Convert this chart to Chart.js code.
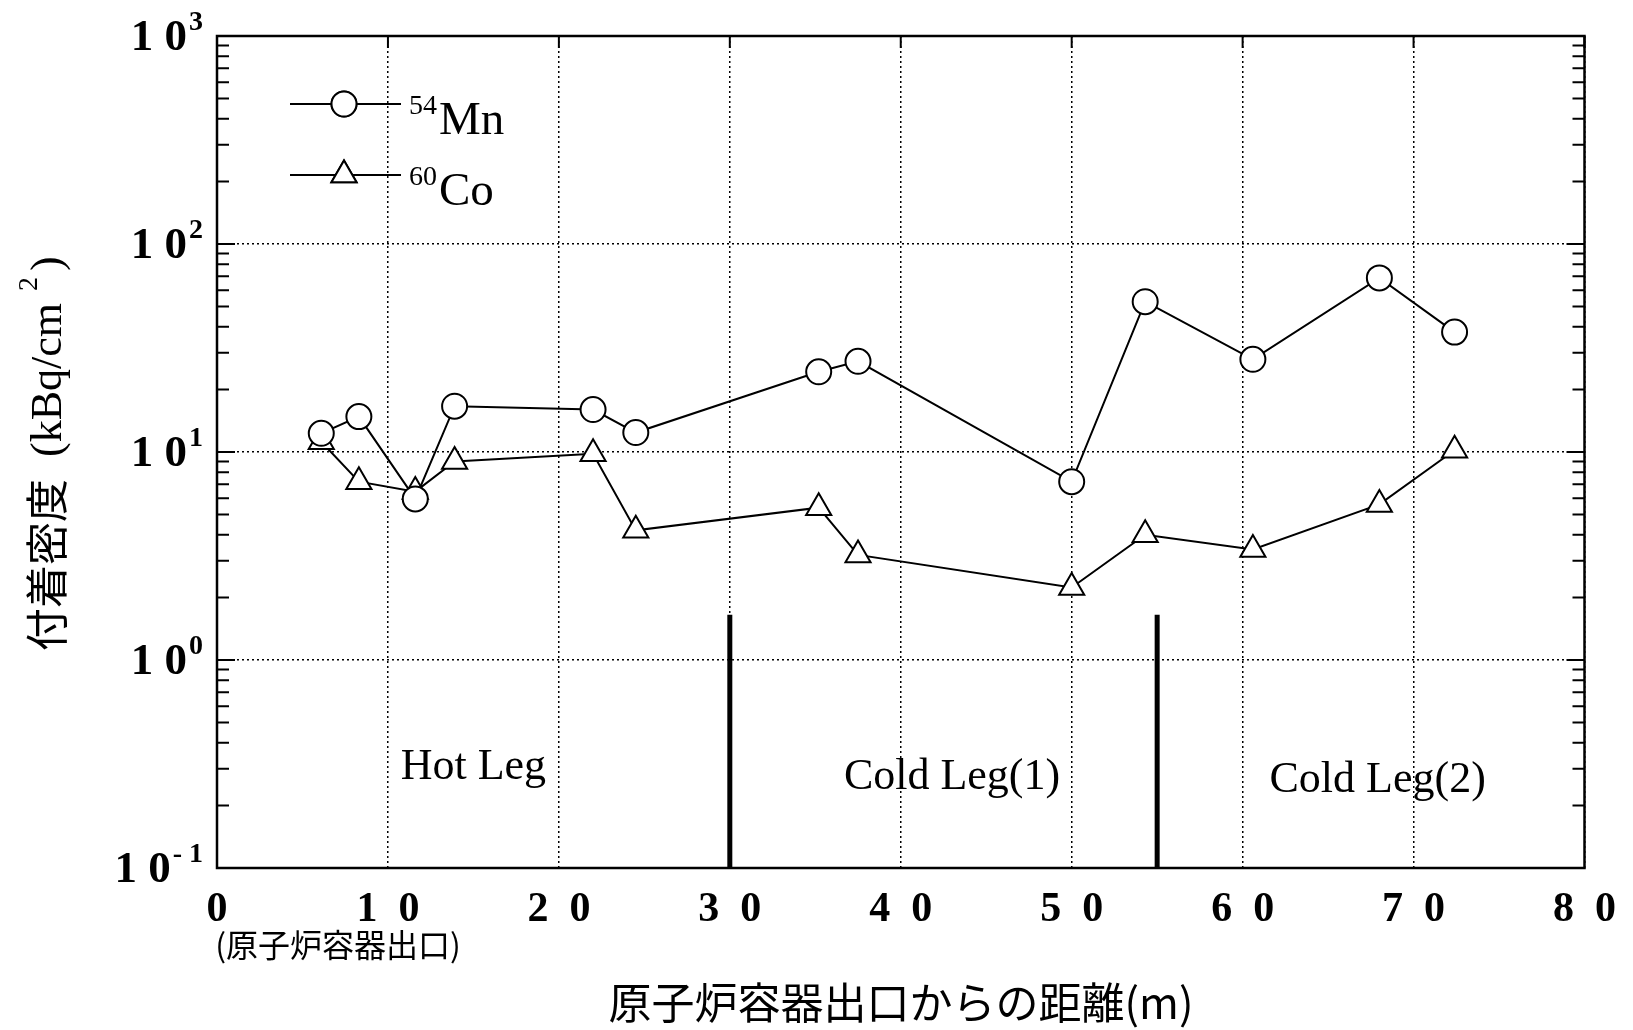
<!DOCTYPE html>
<html>
<head>
<meta charset="utf-8">
<script src="https://cdn.jsdelivr.net/npm/chart.js@4.4.1/dist/chart.umd.min.js"></script>
<style>
  body { margin: 0; background: #fff; }
  canvas { display: block; }
</style>
</head>
<body>
<canvas id="deposit" width="1633" height="1030"></canvas>
<script>
// distance from reactor vessel outlet (m) and deposit density (kBq/cm2)
var mnX = [6.1, 8.3, 11.6, 13.9, 22.0, 24.5, 35.2, 37.5, 50.0, 54.3, 60.6, 68.0, 72.4];
var mnY = [12.3, 14.8, 5.95, 16.6, 16.0, 12.4, 24.3, 27.3, 7.2, 52.8, 27.9, 68.7, 37.7];
var coX = [6.1, 8.3, 11.6, 13.9, 22.0, 24.5, 35.2, 37.5, 50.0, 54.3, 60.6, 68.0, 72.4];
var coY = [11.2, 7.2, 6.45, 9.0, 9.8, 4.2, 5.4, 3.2, 2.23, 4.0, 3.4, 5.6, 10.2];

var xTicks = [0, 10, 20, 30, 40, 50, 60, 70, 80];
var yExponents = [-1, 0, 1, 2, 3];
var yExpLabels = ['- 1', '0', '1', '2', '3'];

// boundaries between legs
var legBoundaries = [30, 55];
var boundaryTop = 1.65;
var legNames = ['Hot Leg', 'Cold Leg(1)', 'Cold Leg(2)'];
var legNameX = [15.0, 43.0, 67.9];
var legNameY = [0.267, 0.240, 0.232];

var SERIF = '"Liberation Serif", "DejaVu Serif", serif';
var CJK = '"Noto Sans CJK JP", sans-serif';

function toPoints(xs, ys) {
    return xs.map(function (v, i) { return {x: v, y: ys[i]}; });
}

var datasets = [
    {
        label: '54Mn',
        data: toPoints(mnX, mnY),
        borderColor: '#000',
        backgroundColor: '#fff',
        borderWidth: 2,
        pointStyle: 'circle',
        pointRadius: 12.5,
        pointBorderWidth: 2,
        pointBackgroundColor: '#fff',
        pointBorderColor: '#000'
    },
    {
        label: '60Co',
        data: toPoints(coX, coY),
        borderColor: '#000',
        backgroundColor: '#fff',
        borderWidth: 2,
        pointStyle: 'triangle',
        pointRadius: 14.5,
        pointBorderWidth: 2,
        pointBackgroundColor: '#fff',
        pointBorderColor: '#000'
    }
];
legBoundaries.forEach(function (b) {
    datasets.push({
        label: 'boundary',
        data: [{x: b, y: 0.1}, {x: b, y: boundaryTop}],
        borderColor: '#000',
        borderWidth: 5,
        pointRadius: 0,
        borderCapStyle: 'butt'
    });
});

function isDecade(v) {
    var l = Math.log10(v);
    return Math.abs(l - Math.round(l)) < 1e-9;
}

const decorPlugin = {
    id: 'decor',
    afterDraw: function (chart) {
        const ctx = chart.ctx;
        const a = chart.chartArea;
        const x = chart.scales.x;
        const y = chart.scales.y;
        ctx.save();
        ctx.strokeStyle = '#000';
        ctx.fillStyle = '#000';

        // frame
        ctx.lineWidth = 2.5;
        ctx.strokeRect(a.left, a.top, a.right - a.left, a.bottom - a.top);

        // inward ticks on left and right
        ctx.lineWidth = 2;
        for (var e = -1; e < 3; e++) {
            for (var s = 1; s <= 9; s++) {
                var py = y.getPixelForValue(s * Math.pow(10, e));
                var len = s === 1 ? 18 : 12;
                ctx.beginPath();
                ctx.moveTo(a.left, py); ctx.lineTo(a.left + len, py);
                ctx.moveTo(a.right, py); ctx.lineTo(a.right - len, py);
                ctx.stroke();
            }
        }
        // inward ticks on top
        xTicks.forEach(function (v) {
            var px = x.getPixelForValue(v);
            ctx.beginPath();
            ctx.moveTo(px, a.top); ctx.lineTo(px, a.top + 12);
            ctx.stroke();
        });

        // y tick labels 10^n
        var rightEdge = 203;
        yExponents.forEach(function (e, i) {
            var py = y.getPixelForValue(Math.pow(10, e));
            ctx.font = 'bold 28px ' + SERIF;
            var supW = ctx.measureText(yExpLabels[i]).width;
            ctx.textAlign = 'left';
            ctx.textBaseline = 'alphabetic';
            ctx.fillText(yExpLabels[i], rightEdge - supW, py - 6);
            ctx.font = 'bold 45px ' + SERIF;
            ctx.textAlign = 'right';
            ctx.fillText('1 0', rightEdge - supW - 2, py + 14);
        });

        // leg names
        ctx.font = '44px ' + SERIF;
        ctx.textAlign = 'center';
        ctx.textBaseline = 'alphabetic';
        legNames.forEach(function (n, i) {
            ctx.fillText(n, x.getPixelForValue(legNameX[i]), y.getPixelForValue(legNameY[i]));
        });

        // legend
        var rows = [{ds: 0, y: 104, sup: '54', name: 'Mn'}, {ds: 1, y: 175, sup: '60', name: 'Co'}];
        rows.forEach(function (r) {
            var d = chart.data.datasets[r.ds];
            ctx.lineWidth = 2;
            ctx.beginPath();
            ctx.moveTo(290, r.y); ctx.lineTo(401, r.y);
            ctx.stroke();
            ctx.fillStyle = '#fff';
            Chart.helpers.drawPoint(ctx, {pointStyle: d.pointStyle, radius: d.pointRadius, borderWidth: 2}, 344, r.y);
            ctx.fill();
            ctx.stroke();
            ctx.fillStyle = '#000';
            ctx.textAlign = 'left';
            ctx.textBaseline = 'alphabetic';
            ctx.font = '28px ' + SERIF;
            ctx.fillText(r.sup, 409, r.y + 10);
            var sw = ctx.measureText(r.sup).width;
            ctx.font = '47px ' + SERIF;
            ctx.fillText(r.name, 409 + sw + 2, r.y + 30);
        });

        // x axis sub label and title
        ctx.textAlign = 'center';
        ctx.textBaseline = 'middle';
        ctx.font = '32px ' + CJK;
        ctx.fillText('(原子炉容器出口)', 338, 945);
        ctx.font = '43px ' + CJK;
        ctx.fillText('原子炉容器出口からの距離(m)', 901, 1003);

        // y axis title (rotated)
        ctx.translate(47, 651);
        ctx.rotate(-Math.PI / 2);
        ctx.textAlign = 'left';
        ctx.textBaseline = 'middle';
        var cx = 0;
        ctx.font = '43px ' + CJK;
        ctx.fillText('付着密度', cx, 0);
        cx += ctx.measureText('付着密度').width + 22;
        ctx.font = '44px ' + SERIF;
        ctx.fillText('(kBq/cm', cx, 2);
        cx += ctx.measureText('(kBq/cm').width + 12;
        ctx.font = '28px ' + SERIF;
        ctx.fillText('2', cx, -17);
        cx += ctx.measureText('2').width + 6;
        ctx.font = '44px ' + SERIF;
        ctx.fillText(')', cx, 2);

        ctx.restore();
    }
};

const config = {
    type: 'line',
    data: {datasets: datasets},
    options: {
        responsive: false,
        animation: false,
        layout: {padding: {top: 36, right: 45, left: 0, bottom: 0}},
        plugins: {
            legend: {display: false},
            tooltip: {enabled: false}
        },
        scales: {
            x: {
                type: 'linear',
                min: 0,
                max: 80,
                afterBuildTicks: function (scale) {
                    scale.ticks = xTicks.map(function (v) { return {value: v}; });
                },
                afterFit: function (scale) { scale.height = 162; },
                grid: {
                    color: '#000',
                    lineWidth: 1.5,
                    drawTicks: false
                },
                border: {display: false, dash: [2, 3]},
                ticks: {
                    padding: 17,
                    color: '#000',
                    font: {family: SERIF, size: 42, weight: 'bold'},
                    callback: function (v) { return String(v).split('').join('\u2002'); }
                }
            },
            y: {
                type: 'logarithmic',
                min: 0.1,
                max: 1000,
                afterFit: function (scale) { scale.width = 217; },
                grid: {
                    color: function (c) {
                        return isDecade(c.tick.value) ? '#000' : 'rgba(0,0,0,0)';
                    },
                    lineWidth: 1.5,
                    drawTicks: false
                },
                border: {display: false, dash: [2, 3]},
                ticks: {display: false}
            }
        }
    },
    plugins: [decorPlugin]
};

const graphic = new Chart(document.getElementById('deposit'), config);
</script>
</body>
</html>
